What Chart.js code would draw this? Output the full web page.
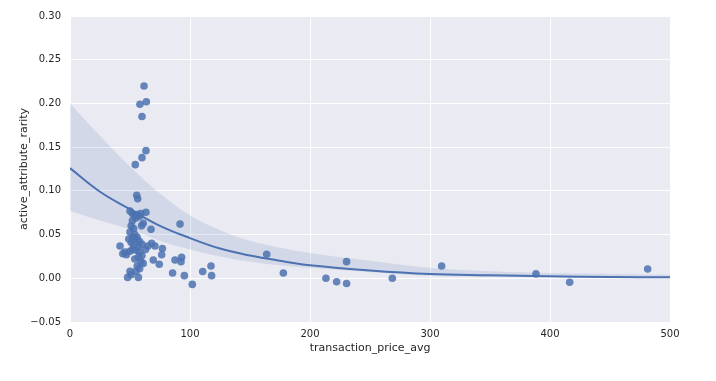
<!DOCTYPE html>
<html lang="en">
<head>
    <meta charset="UTF-8">
    <title>active_attribute_rarity vs transaction_price_avg</title>
    <script src="https://cdn.jsdelivr.net/npm/chart.js@4.4.0/dist/chart.umd.min.js"></script>
    <style>
        html, body { margin: 0; padding: 0; background: #ffffff; }
        #wrap { width: 716px; height: 381px; }
    </style>
</head>
<body>
    <div id="wrap"><canvas id="myChart" width="716" height="381"></canvas></div>

    <script>
        // scatter points
        var priceAvg = [61.7, 58.3, 63.6, 60, 63.3, 60, 54.4, 55.6, 56.4,
            50, 52, 54, 56, 58, 55, 63.3, 59,
            61, 59.7, 67.5, 91.7,
            52, 51, 53, 50, 54, 52, 49, 55, 51, 53, 56, 58, 57, 60,
            41.7, 45.8, 44, 47, 50, 52, 55, 58, 60, 57, 54, 59, 61, 56, 58, 55, 51,
            68, 70.8, 77, 76.4, 69.4, 74.4, 65, 63,
            87.5, 93, 92.5, 85.5, 95.3, 101.9, 110.6, 117.5, 118,
            48, 57, 50,
            163.9, 177.8, 213.3, 222.2, 230.5, 230.5, 268.6, 309.7, 388.3, 416.4, 481.4];
        var rarity = [0.220, 0.199, 0.202, 0.185, 0.146, 0.138, 0.130, 0.095, 0.091,
            0.077, 0.074, 0.072, 0.073, 0.071, 0.069, 0.0755, 0.074,
            0.063, 0.060, 0.056, 0.062,
            0.066, 0.060, 0.057, 0.053, 0.050, 0.047, 0.045, 0.044, 0.041, 0.038, 0.047, 0.042, 0.036, 0.039,
            0.037, 0.030, 0.028, 0.027, 0.031, 0.033, 0.032, 0.030, 0.026, 0.024, 0.022, 0.019, 0.017, 0.014, 0.011, 0.008, 0.004,
            0.040, 0.037, 0.034, 0.027, 0.021, 0.016, 0.037, 0.033,
            0.021, 0.024, 0.019, 0.006, 0.003, -0.007, 0.0077, 0.014, 0.003,
            0.001, 0.001, 0.008,
            0.0275, 0.006, 0.000, -0.004, -0.006, 0.019, 0.000, 0.014, 0.005, -0.0045, 0.0107];

        // fitted curve and its confidence band
        var fitX = [0, 25, 50, 75, 100, 125, 150, 175, 200, 250, 300, 350, 400, 450, 500];
        var fitY = [0.126, 0.099, 0.079, 0.060, 0.046, 0.034, 0.026, 0.020, 0.015, 0.009, 0.005, 0.0035, 0.0022, 0.0015, 0.0012];
        var bandHigh = [0.200, 0.163, 0.128, 0.097, 0.072, 0.055, 0.043, 0.035, 0.029, 0.020, 0.012, 0.008, 0.006, 0.005, 0.004];
        var bandLow = [0.077, 0.066, 0.056, 0.043, 0.033, 0.025, 0.019, 0.015, 0.012, 0.007, 0.003, 0.0015, 0.001, 0.0006, 0.0003];

        var xTicks = [0, 100, 200, 300, 400, 500];
        var yTicks = [-0.05, 0, 0.05, 0.10, 0.15, 0.20, 0.25, 0.30];

        function pairs(xs, ys) {
            return xs.map(function (x, i) { return { x: x, y: ys[i] }; });
        }

        var blue = '#4C72B0';
        var tickFont = { family: 'DejaVu Sans', size: 10 };

        // seaborn style grey panel
        var panelBg = {
            id: 'panelBg',
            beforeDraw: function (chart) {
                var a = chart.chartArea;
                var ctx = chart.ctx;
                ctx.save();
                ctx.fillStyle = '#EAEAF2';
                ctx.fillRect(a.left, a.top, a.right - a.left, a.bottom - a.top);
                ctx.restore();
            }
        };

        var ctx = document.getElementById('myChart').getContext('2d');
        var chart = new Chart(ctx, {
            type: 'scatter',
            data: {
                datasets: [
                    {
                        data: pairs(priceAvg, rarity),
                        backgroundColor: 'rgba(76,114,176,0.85)',
                        borderWidth: 0,
                        pointRadius: 3.8,
                        order: 3
                    },
                    {
                        data: pairs(fitX, bandHigh),
                        showLine: true,
                        pointRadius: 0,
                        borderWidth: 0,
                        borderColor: 'rgba(0,0,0,0)',
                        backgroundColor: 'rgba(76,114,176,0.15)',
                        fill: '+1',
                        tension: 0.4,
                        order: 2
                    },
                    {
                        data: pairs(fitX, bandLow),
                        showLine: true,
                        pointRadius: 0,
                        borderWidth: 0,
                        borderColor: 'rgba(0,0,0,0)',
                        fill: false,
                        tension: 0.4,
                        order: 2
                    },
                    {
                        data: pairs(fitX, fitY),
                        showLine: true,
                        pointRadius: 0,
                        borderColor: blue,
                        borderWidth: 2,
                        fill: false,
                        tension: 0.4,
                        order: 1
                    }
                ]
            },
            options: {
                responsive: false,
                animation: false,
                layout: { padding: { top: 16, right: 46, left: 0, bottom: 0 } },
                plugins: {
                    legend: { display: false },
                    tooltip: { enabled: false }
                },
                scales: {
                    x: {
                        type: 'linear',
                        min: 0,
                        max: 500,
                        afterBuildTicks: function (s) { s.ticks = xTicks.map(function (v) { return { value: v }; }); },
                        afterFit: function (s) { s.height = 59; },
                        grid: { color: '#ffffff', lineWidth: 1, drawTicks: false },
                        border: { display: false },
                        ticks: { color: '#262626', font: tickFont, padding: 6 },
                        title: {
                            display: true,
                            text: 'transaction_price_avg',
                            color: '#262626',
                            font: { family: 'DejaVu Sans', size: 11 },
                            padding: { top: 2, bottom: 26 }
                        }
                    },
                    y: {
                        min: -0.05,
                        max: 0.30,
                        afterBuildTicks: function (s) { s.ticks = yTicks.map(function (v) { return { value: v }; }); },
                        afterFit: function (s) { s.width = 70; },
                        grid: { color: '#ffffff', lineWidth: 1, drawTicks: false },
                        border: { display: false },
                        ticks: {
                            color: '#262626',
                            font: tickFont,
                            padding: 9,
                            callback: function (v) {
                                var s = Math.abs(v).toFixed(2);
                                return v < -1e-9 ? '\u2212' + s : s;
                            }
                        },
                        title: {
                            display: true,
                            text: 'active_attribute_rarity',
                            color: '#262626',
                            font: { family: 'DejaVu Sans', size: 11 },
                            padding: { top: 18, bottom: 0 }
                        }
                    }
                }
            },
            plugins: [panelBg]
        });
    </script>
</body>
</html>
